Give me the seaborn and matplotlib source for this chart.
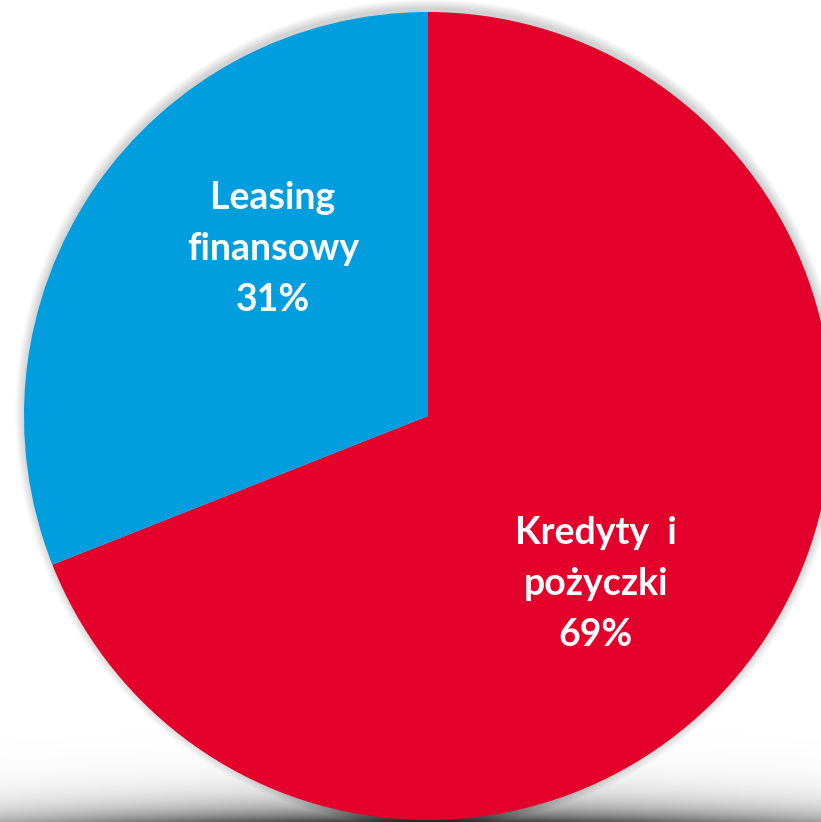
import numpy as np
import matplotlib
matplotlib.use("Agg")
import matplotlib.pyplot as plt
import seaborn as sns

# Data
categories = ["Kredyty i\npożyczki", "Leasing\nfinansowy"]
shares = [69, 31]
colors = ["#E3002B", "#009EDE"]

sns.set_theme(style="white")
plt.rcParams["font.family"] = ["Lato", "DejaVu Sans"]

W, H = 821, 822
fig = plt.figure(figsize=(W / 100, H / 100), dpi=100)
ax = fig.add_axes([0, 0, 1, 1])

cx, cy, r = 428, H - 416, 404

# soft shadow behind the pie
yy, xx = np.mgrid[0:H, 0:W]
yy_up = H - yy
d = np.hypot(xx - cx, yy_up - (cy + 3))
halo = 0.18 * np.clip((r + 10 - d) / 10, 0, 1)
bottom = 0.8 * np.exp(-((xx - 430) / 470) ** 2) * np.exp(-(yy_up) / 18)
alpha = np.clip(halo + bottom, 0, 0.85)
img = np.zeros((H, W, 4))
img[..., 3] = alpha
ax.imshow(img, extent=(0, W, 0, H), origin="upper", zorder=0, interpolation="bilinear")

wedges, _ = ax.pie(shares, colors=colors, startangle=90, counterclock=False,
                   center=(cx, cy), radius=r, frame=True,
                   wedgeprops=dict(linewidth=0))
for w in wedges:
    w.set_zorder(2)
ax.set_xlim(0, W)
ax.set_ylim(0, H)
ax.set_aspect("equal")
ax.axis("off")

label_pos = [(596, H - 584), (273, H - 249)]
texts = ["Kredyty  i\npożyczki\n69%", "Leasing\nfinansowy\n31%"]
for (x, y), t in zip(label_pos, texts):
    ax.text(x, y, t, ha="center", va="center", color="white", fontsize=27,
            fontweight="bold", linespacing=1.6, zorder=3)

fig.savefig("out.png", dpi=100)
